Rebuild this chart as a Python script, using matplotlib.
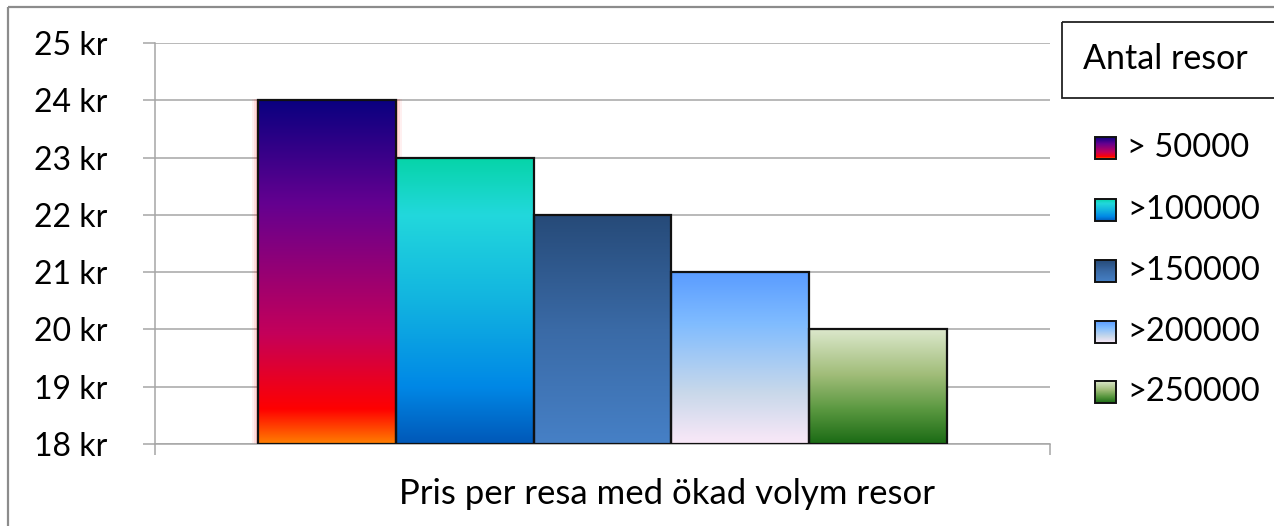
import numpy as np
import matplotlib.pyplot as plt
from matplotlib.colors import LinearSegmentedColormap
from matplotlib.patches import Rectangle

plt.rcParams['font.family'] = ['Lato', 'DejaVu Sans']

serier = ['> 50000', '>100000', '>150000', '>200000', '>250000']
pris = [24, 23, 22, 21, 20]
y_ticks = [18, 19, 20, 21, 22, 23, 24, 25]
y_etiketter = [f'{v} kr' for v in y_ticks]
x_text = 'Pris per resa med ökad volym resor'
legend_titel = 'Antal resor'

# färgövergångar uppifrån och ned
gradienter = [
    [(0, '#0a0080'), (0.3, '#640090'), (0.68, '#c4005a'), (0.9, '#ff0000'), (1, '#ff7e00')],
    [(0, '#06d4a8'), (0.2, '#22d8dc'), (0.5, '#12b4e0'), (0.8, '#0088e6'), (1, '#0058b8')],
    [(0, '#264a78'), (0.5, '#3a6aa6'), (1, '#4680c6')],
    [(0, '#5a9cff'), (0.3, '#80bcff'), (0.7, '#c8d8ea'), (1, '#fae8f8')],
    [(0, '#dce8cc'), (0.4, '#a0bc78'), (0.7, '#5a9840'), (1, '#1a6a14')],
]
cmaps = [LinearSegmentedColormap.from_list(f'g{i}', g) for i, g in enumerate(gradienter)]
grad = np.linspace(0, 1, 256).reshape(-1, 1)

fig = plt.figure(figsize=(12.74, 5.26), dpi=100)
ax = fig.add_axes([155 / 1274, 82 / 526, 895 / 1274, 401 / 526])

ymin = y_ticks[0]
bredd = 1.0
for i, v in enumerate(pris):
    x0 = i - bredd / 2
    if i == 0:
        # rött sken runt första stapeln
        for k, a in [(0.045, 0.06), (0.03, 0.08), (0.015, 0.12)]:
            ax.add_patch(Rectangle((x0 - k, ymin), bredd + 2 * k, v - ymin + k * 0.5,
                                   facecolor='red', edgecolor='none', alpha=a, zorder=2))
    ax.imshow(grad, cmap=cmaps[i], aspect='auto', origin='upper',
              extent=(x0, x0 + bredd, ymin, v), zorder=3, interpolation='bilinear')
    ax.bar(i, v - ymin, bottom=ymin, width=bredd, facecolor='none',
           edgecolor='#111111', linewidth=1.6, zorder=4)

ax.set_xlim(-1.246, 5.246)
ax.set_ylim(ymin, y_ticks[-1])
ax.set_yticks(y_ticks)
ax.set_yticklabels(y_etiketter, fontsize=23)
ax.set_xticks([-1.246, 5.246])
ax.set_xticklabels([])
ax.grid(axis='y', color='#a6a6a6', linewidth=1.1, zorder=0)
ax.set_axisbelow(True)
ax.tick_params(axis='y', length=9, color='#a6a6a6', width=1.1, pad=25, direction='out')
ax.tick_params(axis='x', length=8, color='#a6a6a6', width=1.1, direction='out')
for s in ['top', 'right']:
    ax.spines[s].set_visible(False)
for s in ['left', 'bottom']:
    ax.spines[s].set_color('#a6a6a6')
    ax.spines[s].set_linewidth(1.1)

# överlägg i pixelkoordinater för ram, förklaring och axeltext
ov = fig.add_axes([0, 0, 1, 1])
ov.set_xlim(0, 1274)
ov.set_ylim(526, 0)
ov.axis('off')

ov.add_patch(Rectangle((8, 7), 1400, 700, fill=False, edgecolor='#8c8c8c', linewidth=1.6))
ov.text(667, 494, x_text, ha='center', va='center', fontsize=25)

ov.add_patch(Rectangle((1062, 22), 300, 76, fill=False, edgecolor='#222222', linewidth=1.3))
ov.text(1083, 59, legend_titel, ha='left', va='center', fontsize=24.5)

rad_y = [148, 210, 271, 332, 392]
for i, namn in enumerate(serier):
    yc = rad_y[i]
    ov.imshow(grad, cmap=cmaps[i], aspect='auto', origin='upper',
              extent=(1095, 1116, yc + 11, yc - 11), zorder=3)
    ov.add_patch(Rectangle((1095, yc - 11), 21, 22, fill=False, edgecolor='#111111',
                           linewidth=1.4, zorder=4))
    ov.text(1127, yc, namn, ha='left', va='center', fontsize=23.5)
ov.set_xlim(0, 1274)
ov.set_ylim(526, 0)

fig.savefig('out.png', dpi=100)
